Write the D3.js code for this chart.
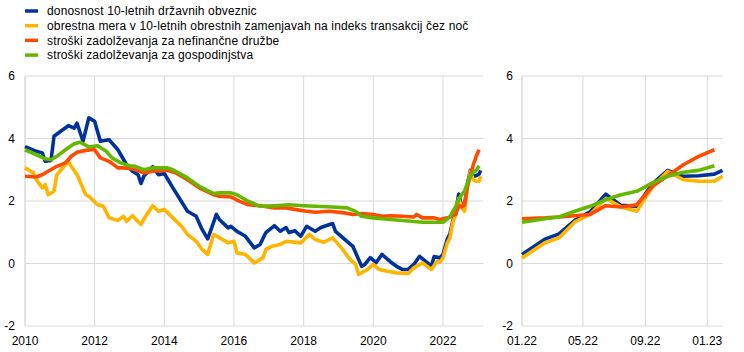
<!DOCTYPE html>
<html>
<head>
<meta charset="utf-8">
<script src="https://cdn.jsdelivr.net/npm/d3@7"></script>
<style>
  body { margin: 0; background: #fff; }
  svg { font-family: Arial, "Liberation Sans", sans-serif; }
  .grid line { stroke: #d9d9d9; stroke-width: 1; }
  .axis text { font-size: 12px; fill: #000; }
  .legend text { font-size: 12px; fill: #000; letter-spacing: 0.15px; }
</style>
</head>
<body>
<div id="chart"></div>
<script>
// series names (legend order)
const seriesNames = [
  'donosnost 10-letnih državnih obveznic',
  'obrestna mera v 10-letnih obrestnih zamenjavah na indeks transakcij čez noč',
  'stroški zadolževanja za nefinančne družbe',
  'stroški zadolževanja za gospodinjstva'
];
const seriesColors = ['#003299', '#ffb400', '#ff4b00', '#65b800'];

// long history 2010-2021, [month, value]
const bondHist = [["2010-01",3.74],["2010-05",3.59],["2010-07",3.54],["2010-08",3.27],["2010-10",3.30],["2010-11",4.07],["2011-02",4.28],["2011-04",4.41],["2011-06",4.33],["2011-07",4.49],["2011-09",3.91],["2011-11",4.66],["2012-01",4.55],["2012-03",3.91],["2012-06",3.96],["2012-09",3.64],["2012-12",3.16],["2013-02",2.95],["2013-04",2.84],["2013-05",2.56],["2013-06",2.80],["2013-09",3.10],["2013-11",2.84],["2014-01",2.88],["2014-04",2.42],["2014-09",1.67],["2014-12",1.51],["2015-02",1.09],["2015-04",0.79],["2015-07",1.57],["2015-08",1.41],["2015-11",1.14],["2015-12",1.19],["2016-02",1.03],["2016-05",0.87],["2016-08",0.50],["2016-10",0.61],["2016-12",0.99],["2017-03",1.21],["2017-05",1.03],["2017-07",1.15],["2017-08",0.99],["2017-10",1.05],["2017-12",0.87],["2018-02",1.19],["2018-05",1.03],["2018-07",1.15],["2018-11",1.28],["2018-12",1.03],["2019-04",0.71],["2019-06",0.55],["2019-09",-0.09],["2019-10",-0.04],["2019-12",0.19],["2020-02",0.03],["2020-04",0.29],["2020-07",0.05],["2020-09",-0.09],["2020-11",-0.19],["2021-01",-0.19],["2021-03",-0.03],["2021-05",0.23],["2021-06",0.15],["2021-09",-0.08],["2021-10",0.22],["2021-12",0.18]];

const oisHist = [["2010-01",3.06],["2010-04",2.90],["2010-05",2.68],["2010-07",2.42],["2010-08",2.52],["2010-09",2.20],["2010-11",2.31],["2010-12",2.84],["2011-02",3.06],["2011-04",3.27],["2011-05",3.11],["2011-07",2.84],["2011-10",2.20],["2011-11",2.15],["2012-02",1.88],["2012-04",1.83],["2012-06",1.46],["2012-09",1.38],["2012-11",1.51],["2012-12",1.35],["2013-02",1.53],["2013-05",1.25],["2013-07",1.57],["2013-09",1.85],["2013-11",1.67],["2014-01",1.73],["2014-04",1.46],["2014-07",1.19],["2014-09",0.93],["2014-12",0.71],["2015-02",0.45],["2015-04",0.29],["2015-06",0.93],["2015-09",0.77],["2015-11",0.66],["2016-01",0.71],["2016-02",0.34],["2016-05",0.29],["2016-08",0.02],["2016-11",0.18],["2016-12",0.45],["2017-02",0.55],["2017-05",0.61],["2017-07",0.71],["2017-12",0.66],["2018-03",0.93],["2018-05",0.77],["2018-08",0.68],["2018-11",0.82],["2019-02",0.50],["2019-05",0.13],["2019-07",-0.03],["2019-08",-0.35],["2019-11",-0.19],["2020-01",-0.03],["2020-03",-0.19],["2020-06",-0.25],["2020-09",-0.30],["2021-01",-0.32],["2021-03",-0.14],["2021-06",0.02],["2021-09",-0.19],["2021-11",0.07],["2021-12",0.05]];

const nfcHist = [["2010-01",2.79],["2010-05",2.77],["2010-07",2.84],["2010-09",2.95],["2010-12",3.11],["2011-03",3.22],["2011-05",3.43],["2011-07",3.56],["2011-10",3.62],["2011-12",3.64],["2012-01",3.64],["2012-03",3.38],["2012-06",3.27],["2012-09",3.06],["2012-11",3.06],["2013-02",3.03],["2013-06",2.90],["2013-09",2.95],["2014-02",2.98],["2014-05",2.90],["2014-09",2.68],["2015-01",2.42],["2015-06",2.20],["2015-08",2.15],["2015-12",2.13],["2016-03",1.99],["2016-06",1.88],["2016-10",1.85],["2017-03",1.78],["2017-07",1.78],["2017-12",1.70],["2018-02",1.67],["2018-05",1.64],["2018-10",1.67],["2019-03",1.62],["2019-06",1.57],["2019-09",1.60],["2020-01",1.57],["2020-04",1.51],["2020-07",1.53],["2020-11",1.51],["2021-03",1.49],["2021-04",1.57],["2021-06",1.46],["2021-10",1.46],["2021-12",1.41]];

const hhHist = [["2010-01",3.64],["2010-05",3.48],["2010-08",3.35],["2010-10",3.32],["2010-12",3.43],["2011-03",3.64],["2011-06",3.83],["2011-08",3.88],["2011-11",3.73],["2012-02",3.77],["2012-05",3.59],["2012-07",3.38],["2012-10",3.22],["2013-01",3.13],["2013-03",3.11],["2013-06",3.00],["2013-09",3.06],["2014-02",3.06],["2014-04",3.00],["2014-09",2.74],["2015-01",2.47],["2015-06",2.24],["2015-08",2.26],["2015-12",2.26],["2016-02",2.20],["2016-06",1.99],["2016-10",1.83],["2017-03",1.85],["2017-08",1.88],["2018-01",1.85],["2018-05",1.83],["2018-11",1.81],["2019-04",1.78],["2019-07",1.67],["2019-09",1.51],["2020-01",1.46],["2020-04",1.43],["2020-09",1.39],["2021-02",1.35],["2021-06",1.32],["2021-11",1.32]];

// recent months 2022-2023
const recentDates = ["2022-01-01","2022-02-15","2022-03-15","2022-04-15","2022-05-15","2022-06-15","2022-07-15","2022-08-15","2022-09-15","2022-10-15","2022-11-15","2022-12-15","2023-01-15","2023-01-31"];
const bondRecent = [0.29,0.78,0.95,1.38,1.65,2.22,1.86,1.83,2.55,2.98,2.79,2.81,2.86,2.98];
const oisRecent  = [0.18,0.66,0.82,1.33,1.57,2.08,1.81,1.67,2.45,2.95,2.68,2.63,2.63,2.79];
const nfcRecent  = [1.43,1.46,1.49,1.53,1.57,1.85,1.81,1.88,2.47,2.81,3.16,3.43,3.64];
const hhRecent   = [1.32,1.43,1.49,1.67,1.83,2.04,2.20,2.31,2.58,2.79,2.92,2.98,3.13];

const yTicks = [-2, 0, 2, 4, 6];
const leftTicks = ["2010","2012","2014","2016","2018","2020","2022"];
const rightTicks = ["2022-01-01","2022-05-01","2022-09-01","2023-01-01"];

const parseM = d3.timeParse('%Y-%m');
const parseD = d3.timeParse('%Y-%m-%d');

const hist = [bondHist, oisHist, nfcHist, hhHist].map(s => s.map(d => ({date: parseM(d[0]), v: d[1]})));
const recent = [bondRecent, oisRecent, nfcRecent, hhRecent].map(s => s.map((v, i) => ({date: parseD(recentDates[i]), v: v})));

const W = 744, H = 352;
const svg = d3.select('#chart').append('svg').attr('width', W).attr('height', H);

const y = d3.scaleLinear().domain([-2, 6]).range([326, 76]);

function panel(x, ticks, fmt, series, labelX) {
  const g = svg.append('g');
  const [x0, x1] = x.range();

  const grid = g.append('g').attr('class', 'grid');
  grid.selectAll('.hl').data(yTicks).enter().append('line')
    .attr('x1', x0).attr('x2', x1)
    .attr('y1', d => y(d)).attr('y2', d => y(d));
  grid.selectAll('.vl').data(ticks).enter().append('line')
    .attr('x1', d => x(d)).attr('x2', d => x(d))
    .attr('y1', y(6)).attr('y2', y(-2));
  grid.append('line').attr('x1', x0).attr('x2', x0).attr('y1', y(6)).attr('y2', y(-2));

  const ax = g.append('g').attr('class', 'axis');
  ax.selectAll('.yl').data(yTicks).enter().append('text')
    .attr('x', labelX).attr('y', d => y(d)).attr('dy', '0.35em')
    .attr('text-anchor', 'end').text(d => d);
  ax.selectAll('.xl').data(ticks).enter().append('text')
    .attr('x', d => x(d)).attr('y', 345)
    .attr('text-anchor', 'middle').text(fmt);

  const line = d3.line().x(d => x(d.date)).y(d => y(d.v));
  g.selectAll('.series').data(series).enter().append('path')
    .attr('fill', 'none')
    .attr('stroke', (d, i) => seriesColors[i])
    .attr('stroke-width', 3.6)
    .attr('stroke-linejoin', 'round')
    .attr('d', line);
}

// left panel: 2010 onwards
const xL = d3.scaleTime()
  .domain([new Date(2010, 0, 1), new Date(2023, 2, 1)])
  .range([25, 483.4]);
panel(xL, leftTicks.map(t => new Date(+t, 0, 1)), d => d3.timeFormat('%Y')(d),
  hist.map((h, i) => h.concat(recent[i])), 15);

// right panel: 2022 onwards
const xR = d3.scaleTime()
  .domain([parseD('2022-01-01'), parseD('2023-01-31')])
  .range([522, 722.5]);
panel(xR, rightTicks.map(parseD), d => d3.timeFormat('%m.%y')(d), recent, 513);

// legend
const lg = svg.append('g').attr('class', 'legend');
const items = lg.selectAll('g').data(seriesNames).enter().append('g')
  .attr('transform', (d, i) => `translate(25,${11 + i * 14.7})`);
items.append('line').attr('x1', 0).attr('x2', 13)
  .attr('stroke', (d, i) => seriesColors[i]).attr('stroke-width', 3.5);
items.append('text').attr('x', 22).attr('dy', '0.36em').text(d => d);
</script>
</body>
</html>
